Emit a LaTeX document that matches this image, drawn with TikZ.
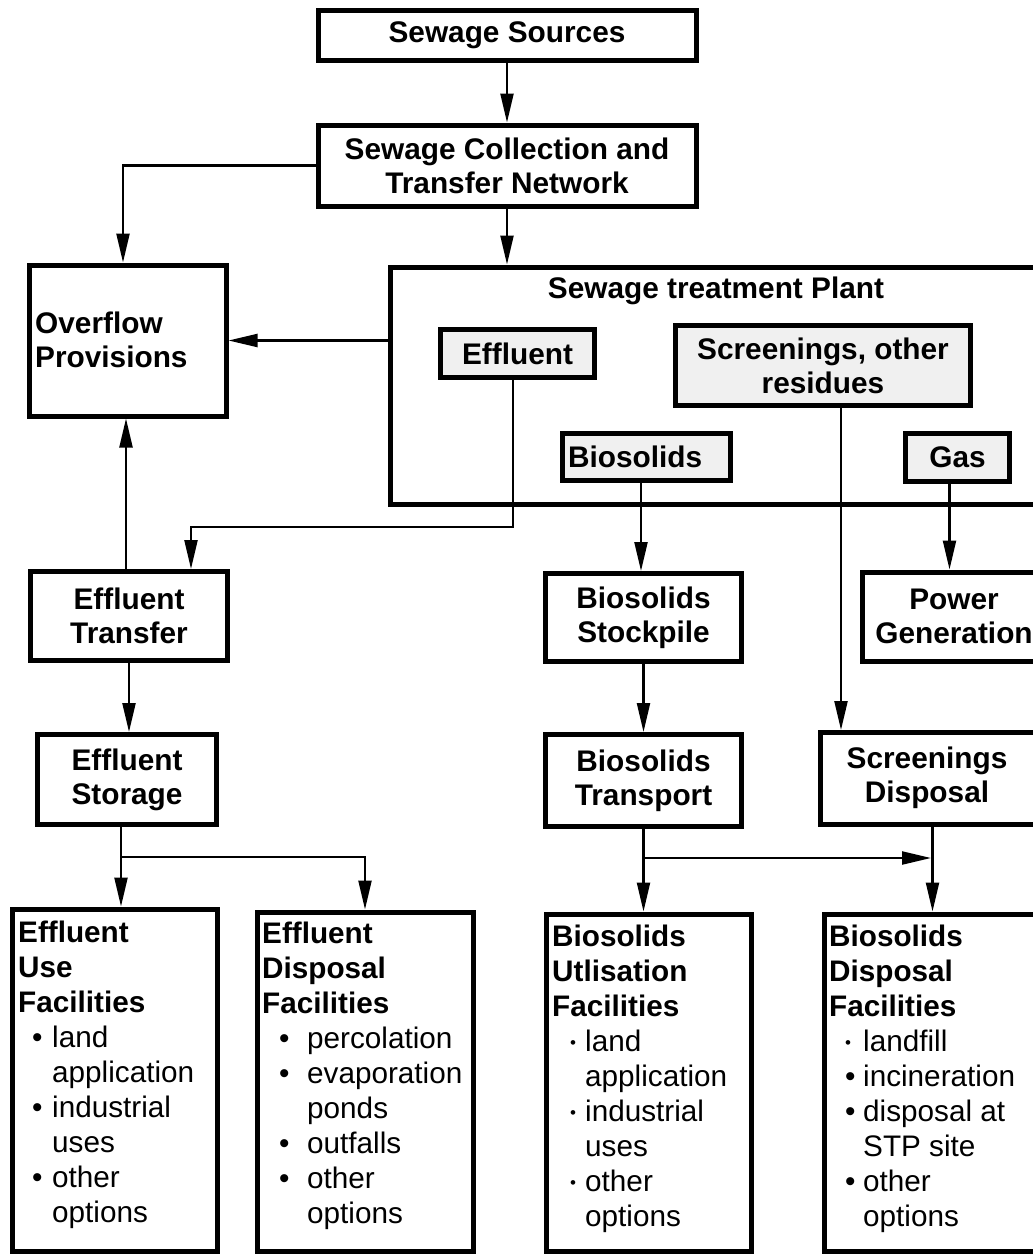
\documentclass[tikz,border=0pt]{standalone}
\usepackage{fontspec}
\setmainfont{Liberation Sans}
\usetikzlibrary{arrows.meta,calc}
\definecolor{boxgray}{HTML}{F0F0F0}
\newcommand{\myitem}[3]{\hspace*{#1}\makebox[#2][l]{\textbullet}#3}
\newcommand{\mysmallitem}[3]{\hspace*{#1}\makebox[#2][l]{\raisebox{3pt}{\fontsize{17}{17}\selectfont\textbullet}}#3}
\newcommand{\mycont}[2]{\hspace*{#1}#2}
\tikzset{
 box/.style={draw=black, line width=5pt, rectangle, inner sep=0pt, align=center,
   font=\bfseries\fontsize{29.8}{34}\selectfont},
 graybox/.style={box, fill=boxgray},
 lbl/.style={inner sep=0pt, font=\bfseries\fontsize{29.8}{34}\selectfont},
 listtxt/.style={inner sep=0pt, align=left, anchor=north west, font=\fontsize{29.7}{35}\selectfont},
 arr/.style={line width=2.2pt, -{Triangle[length=29pt,width=13pt]}},
}
\begin{document}
\begin{tikzpicture}[x=1pt,y=-1pt]
\useasboundingbox (0,0) rectangle (1033,1256);
% top boxes
\node[box, minimum width=378pt, minimum height=50pt] (src) at (507,35) {Sewage Sources};
\node[box, minimum width=378pt, minimum height=81pt] (col) at (507,165.5) {Sewage Collection and\\Transfer Network};
% overflow
\node[box, minimum width=197pt, minimum height=151pt] (ovf) at (127.5,340.5) {};
\node[lbl, align=left, anchor=west] (ovftxt) at (35,340) {Overflow\\Provisions};
% plant
\node[box, minimum width=655pt, minimum height=237pt] (plant) at (717.5,385.5) {};
\node[lbl, anchor=base] (planttxt) at (716,298) {Sewage treatment Plant};
\node[graybox, minimum width=154pt, minimum height=48pt] (eff) at (517.5,353.5) {Effluent};
\node[graybox, minimum width=295pt, minimum height=80pt] (scr) at (823,365.5) {Screenings, other\\residues};
\node[graybox, minimum width=168pt, minimum height=47pt, text width=157pt, inner xsep=5.5pt, align=left] (bio) at (646.5,457) {Biosolids};
\node[graybox, minimum width=104pt, minimum height=48pt] (gas) at (957.5,457.5) {Gas};
% middle boxes
\node[box, minimum width=197pt, minimum height=89pt] (etr) at (129,616) {Effluent\\Transfer};
\node[box, minimum width=179pt, minimum height=90pt] (est) at (127,779.5) {Effluent\\Storage};
\node[box, minimum width=196pt, minimum height=88pt] (bst) at (643.5,617.5) {Biosolids\\Stockpile};
\node[box, minimum width=196pt, minimum height=92pt] (btr) at (643.5,780.5) {Biosolids\\Transport};
\node[box, minimum width=184pt, minimum height=89pt] (pow) at (954,616.5) {Power\\Generation};
\node[box, minimum width=225pt, minimum height=92pt] (sdp) at (932.5,778.5) {};
\node[lbl, align=center] (sdptxt) at (927,778) {Screenings\\Disposal};
% facility boxes
\node[box, minimum width=205pt, minimum height=342pt] (euf) at (114.5,1080) {};
\node[box, minimum width=216pt, minimum height=339pt] (edf) at (365,1081.5) {};
\node[box, minimum width=205pt, minimum height=337pt] (buf) at (648.5,1082.5) {};
\node[box, minimum width=221pt, minimum height=337pt] (bdf) at (934.5,1082.5) {};
\node[listtxt] (euftxt) at (18,921) {\textbf{Effluent}\\\textbf{Use}\\\textbf{Facilities}\\
 \myitem{14pt}{20pt}{land}\\\mycont{34pt}{application}\\
 \myitem{14pt}{20pt}{industrial}\\\mycont{34pt}{uses}\\
 \myitem{14pt}{20pt}{other}\\\mycont{34pt}{options}};
\node[listtxt] (edftxt) at (262,922) {\textbf{Effluent}\\\textbf{Disposal}\\\textbf{Facilities}\\
 \myitem{17pt}{28pt}{percolation}\\\myitem{17pt}{28pt}{evaporation}\\\mycont{45pt}{ponds}\\
 \myitem{17pt}{28pt}{outfalls}\\\myitem{17pt}{28pt}{other}\\\mycont{45pt}{options}};
\node[listtxt] (buftxt) at (552,925) {\textbf{Biosolids}\\\textbf{Utlisation}\\\textbf{Facilities}\\
 \mysmallitem{18pt}{15pt}{land}\\\mycont{33pt}{application}\\
 \mysmallitem{18pt}{15pt}{industrial}\\\mycont{33pt}{uses}\\
 \mysmallitem{18pt}{15pt}{other}\\\mycont{33pt}{options}};
\node[listtxt] (bdftxt) at (829,925) {\textbf{Biosolids}\\\textbf{Disposal}\\\textbf{Facilities}\\
 \mysmallitem{16pt}{18pt}{landfill}\\\myitem{16pt}{18pt}{incineration}\\
 \myitem{16pt}{18pt}{disposal at}\\\mycont{34pt}{STP site}\\
 \myitem{16pt}{18pt}{other}\\\mycont{34pt}{options}};
% coordinates
\coordinate (effturn) at (191,527);
\coordinate (ebr) at (121,857);
\coordinate (bbr) at (645,858);
\coordinate (sbr) at (931,858);
% connectors
\draw[arr] (src) -- (col);
\draw[arr] (col.west) -| ([xshift=-4.5pt]ovf.north);
\draw[arr] (col.south) -- (col.south |- plant.north);
\draw[arr] (plant.west |- ovf.east) -- (ovf.east);
\draw[arr] ([xshift=-4.5pt]eff.south) |- (effturn) -- (effturn |- etr.north);
\draw[arr] ([xshift=-3pt]etr.north) -- ([xshift=-3pt]etr.north |- ovf.south);
\draw[arr] (etr.south) -- (etr.south |- est.north);
\draw[arr] ([xshift=-6pt]est.south) -- ([xshift=-6pt]est.south |- euf.north);
\draw[arr] (ebr) -| (edf.north);
\draw[arr] ([xshift=-5.5pt]bio.south) -- ([xshift=-5.5pt]bio.south |- bst.north);
\draw[arr] ([xshift=-8pt]gas.south) -- ([xshift=-8pt]gas.south |- pow.north);
\draw[arr] ([xshift=18pt]scr.south) -- ([xshift=18pt]scr.south |- sdp.north);
\draw[arr] (bst.south) -- (bst.south |- btr.north);
\draw[arr] (btr.south) -- (btr.south |- buf.north);
\draw[arr] (bbr) -- (sbr);
\draw[arr] (sdp.south) -- (sdp.south |- bdf.north);
\end{tikzpicture}
\end{document}
